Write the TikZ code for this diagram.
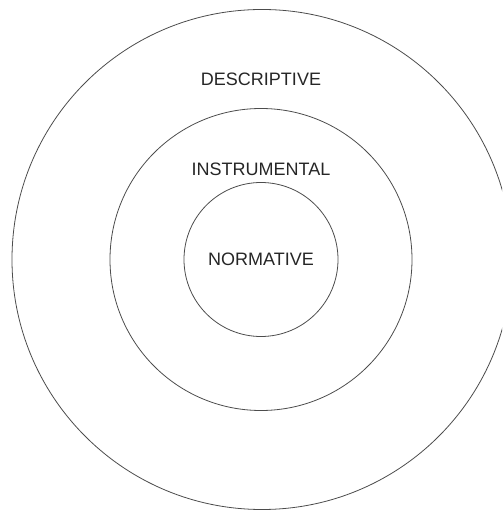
\documentclass[tikz,border=0pt]{standalone}
\usepackage{fontspec}
\setmainfont{Liberation Sans}
\begin{document}
\begin{tikzpicture}[x=1pt,y=1pt,
  ring/.style={draw=black!70,line width=0.8pt,circle,inner sep=0pt,minimum size=#1},
  ringlabel/.style={font=\fontsize{18}{20}\selectfont,text=black!85,inner sep=0pt}]
  \useasboundingbox (-262,-250.5) rectangle (240,259.5);
  \clip (-262,-250.5) rectangle (240,259.5);
  % rings: outer, middle, inner
  \node[ring=500pt] (descriptive) at (0,0) {};
  \node[ring=302pt] (instrumental) at (-1,0) {};
  \node[ring=154pt] (normative) at (-1,0) {};
  \node[ringlabel] (desclabel) at (-1,180.5) {DESCRIPTIVE};
  \node[ringlabel] (instlabel) at (-1,90.5) {INSTRUMENTAL};
  \node[ringlabel] (normlabel) at (-1,0.5) {NORMATIVE};
\end{tikzpicture}
\end{document}
